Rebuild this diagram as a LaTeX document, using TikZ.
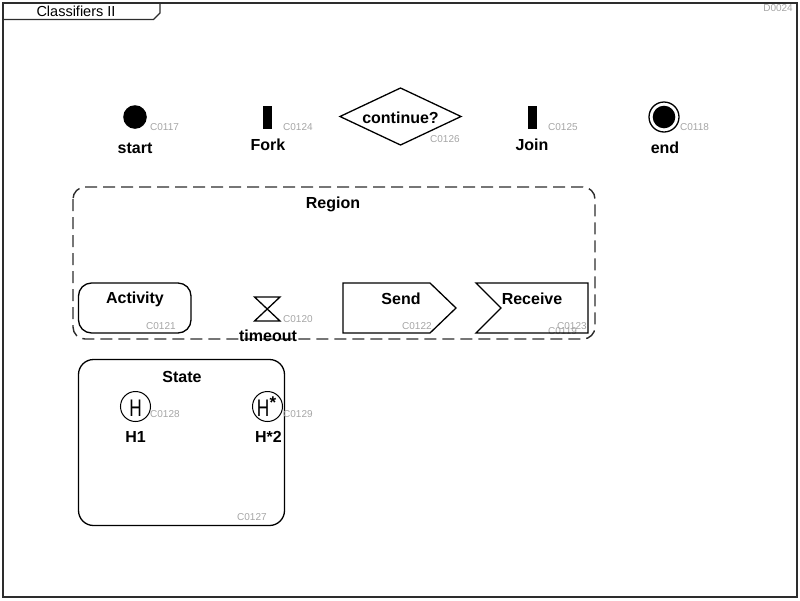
\documentclass[tikz,border=0pt]{standalone}
\usepackage{fontspec}
\setmainfont{Liberation Sans}
\usetikzlibrary{calc}
\definecolor{lineGray}{RGB}{45,45,45}
\definecolor{idGray}{RGB}{165,165,165}

\tikzset{
  lbl/.style={font=\fontsize{16}{16}\selectfont\bfseries, inner sep=0pt, anchor=base},
  cid/.style={font=\fontsize{10}{10}\selectfont, text=idGray, inner sep=0pt, anchor=base west},
  hist/.style={font=\fontsize{24}{24}\selectfont, inner sep=0pt, anchor=base},
  shape line/.style={draw=black, line width=1.3pt},
}

\begin{document}
\begin{tikzpicture}[x=1pt, y=-1pt]
    \useasboundingbox (0,0) rectangle (800,600);
    % frame and title tab
    \coordinate (FA) at (3,3);
    \coordinate (FB) at (797,597);
    \draw[lineGray, line width=1.8pt] (FA) rectangle (FB);
    \draw[lineGray, line width=1.4pt] (3,19.5) -- (153.5,19.5) -- (160,13) -- (160,3);
    \node[font=\fontsize{14.5}{14.5}\selectfont, inner sep=0pt, anchor=base] (title) at (76,16) {Classifiers II};
    \node[cid, anchor=base east] (D0024) at (793,11.5) {D0024};

    % start
    \coordinate (S) at (135,117);
    \fill (S) circle (11.8pt);
    \node[lbl] (start) at (135,153) {start};
    \node[cid] (C0117) at (150,130) {C0117};

    % fork
    \fill (263,105.5) rectangle (272,128.5);
    \node[lbl] (fork) at (268,150) {Fork};
    \node[cid] (C0124) at (283,130) {C0124};

    % decision
    \coordinate (Q) at (400.5,116.5);
    \draw[shape line] (340,116.5) -- (400.5,88) -- (461,116.5) -- (400.5,145) -- cycle;
    \node[lbl] (continue) at (400.5,123) {continue?};
    \node[cid] (C0126) at (430,142) {C0126};

    % join
    \fill (528,105.5) rectangle (537,128.5);
    \node[lbl] (join) at (532,150) {Join};
    \node[cid] (C0125) at (548,130) {C0125};

    % end
    \coordinate (E) at (664,117);
    \draw[line width=1.3pt] (E) circle (15pt);
    \fill (E) circle (11.3pt);
    \node[lbl] (end) at (665,153) {end};
    \node[cid] (C0118) at (680,130) {C0118};

    % region
    \draw[lineGray, line width=1.4pt, dash pattern=on 12pt off 6pt, rounded corners=12pt] (73,187) rectangle (595,339);
    \node[lbl] (region) at (333,208) {Region};
    \node[cid] (C0119) at (548,334) {C0119};

    % activity
    \draw[shape line, rounded corners=13pt] (78.5,283) rectangle (191,333);
    \node[lbl] (activity) at (135,303) {Activity};
    \node[cid] (C0121) at (146,329) {C0121};

    % timeout
    \draw[line width=1.3pt] (254.5,297) -- (280,297) -- (254.5,321) -- (280,321) -- cycle;
    \node[lbl] (timeout) at (268,341) {timeout};
    \node[cid] (C0120) at (283,322) {C0120};

    % send
    \draw[shape line] (343,283) -- (430,283) -- (456,308) -- (430,333) -- (343,333) -- cycle;
    \node[lbl] (send) at (401,304) {Send};
    \node[cid] (C0122) at (402,329) {C0122};

    % receive
    \draw[shape line] (476,283) -- (588,283) -- (588,333) -- (476,333) -- (501,308) -- cycle;
    \node[lbl] (receive) at (532,304) {Receive};
    \node[cid] (C0123) at (557,329) {C0123};

    % state
    \draw[shape line, rounded corners=15pt] (78.5,359.5) rectangle (284.5,525.5);
    \node[lbl] (state) at (182,382) {State};
    \node[cid] (C0127) at (237,520) {C0127};

    % history states
    \coordinate (H1) at (135.5,406.5);
    \coordinate (H2) at (267.5,406.5);
    \draw[line width=1pt] (H1) circle (15pt);
    \draw[line width=1pt] (H2) circle (15pt);
    \node[hist] (hsh) at (135.5,416) {\scalebox{0.72}[1]{H}};
    \node[hist, anchor=base east] (dsh) at (269.5,416) {\scalebox{0.72}[1]{H}};
    \node[font=\fontsize{17}{17}\selectfont\bfseries, inner sep=0pt, anchor=base west] (star) at (269.3,408.5) {*};
    \node[lbl] (h1) at (135.5,442) {H1};
    \node[lbl] (h2) at (268.5,442) {H*2};
    \node[cid] (C0128) at (150,417) {C0128};
    \node[cid] (C0129) at (283,417) {C0129};
\end{tikzpicture}
\end{document}
